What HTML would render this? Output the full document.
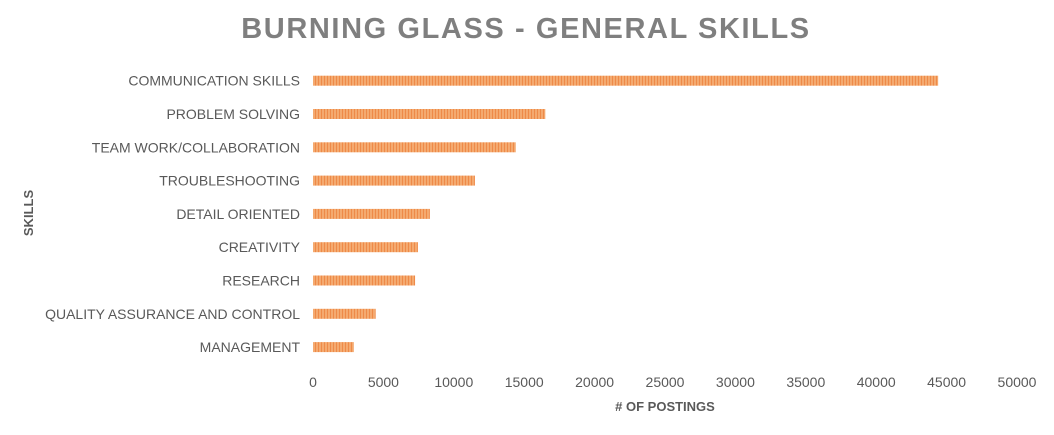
<!DOCTYPE html>
<html><head><meta charset="utf-8"><style>
body{margin:0;background:#fff;}
svg text{font-family:"Liberation Sans",sans-serif;}
</style></head><body>
<svg width="1054" height="430">
<defs><pattern id="stripes" width="3" height="10" patternUnits="userSpaceOnUse">
<rect width="3" height="10" fill="#f4aa70"/><rect width="1" height="10" fill="#ee8a48"/></pattern></defs>
<text x="526" y="38" text-anchor="middle" font-size="29" font-weight="bold" fill="#7f7f7f" letter-spacing="1.6">BURNING GLASS - GENERAL SKILLS</text>
<text transform="translate(33,213) rotate(-90)" text-anchor="middle" font-size="13" font-weight="bold" fill="#595959">SKILLS</text>
<text x="665" y="411" text-anchor="middle" font-size="13" font-weight="bold" fill="#595959"># OF POSTINGS</text>
<g id="g"></g>
</svg>
<script>
const categories=["COMMUNICATION SKILLS","PROBLEM SOLVING","TEAM WORK/COLLABORATION","TROUBLESHOOTING","DETAIL ORIENTED","CREATIVITY","RESEARCH","QUALITY ASSURANCE AND CONTROL","MANAGEMENT"];
const values=[44400,16500,14400,11500,8300,7450,7250,4450,2900];
const ticks=[0,5000,10000,15000,20000,25000,30000,35000,40000,45000,50000];
const x0=313,x1=1017,max=50000;
const xs=v=>x0+(x1-x0)*v/max;
const yc=i=>80.7+i*33.3;
const g=document.getElementById('g');
const ns='http://www.w3.org/2000/svg';
categories.forEach((c,i)=>{
 const t=document.createElementNS(ns,'text');
 t.setAttribute('x',300);t.setAttribute('y',yc(i)+5);t.setAttribute('text-anchor','end');
 t.setAttribute('font-size','14');t.setAttribute('fill','#595959');t.textContent=c;
 
 
 g.appendChild(t);
 const r=document.createElementNS(ns,'rect');
 r.setAttribute('x',x0);r.setAttribute('y',yc(i)-5);r.setAttribute('height',10);
 r.setAttribute('width',xs(values[i])-x0);r.setAttribute('fill','url(#stripes)');
 
 
 g.appendChild(r);
});
ticks.forEach(v=>{
 const t=document.createElementNS(ns,'text');
 t.setAttribute('x',xs(v));t.setAttribute('y',387);t.setAttribute('text-anchor','middle');
 t.setAttribute('font-size','14');t.setAttribute('fill','#595959');t.textContent=v;
 
 
 g.appendChild(t);
});
</script>
</body></html>
